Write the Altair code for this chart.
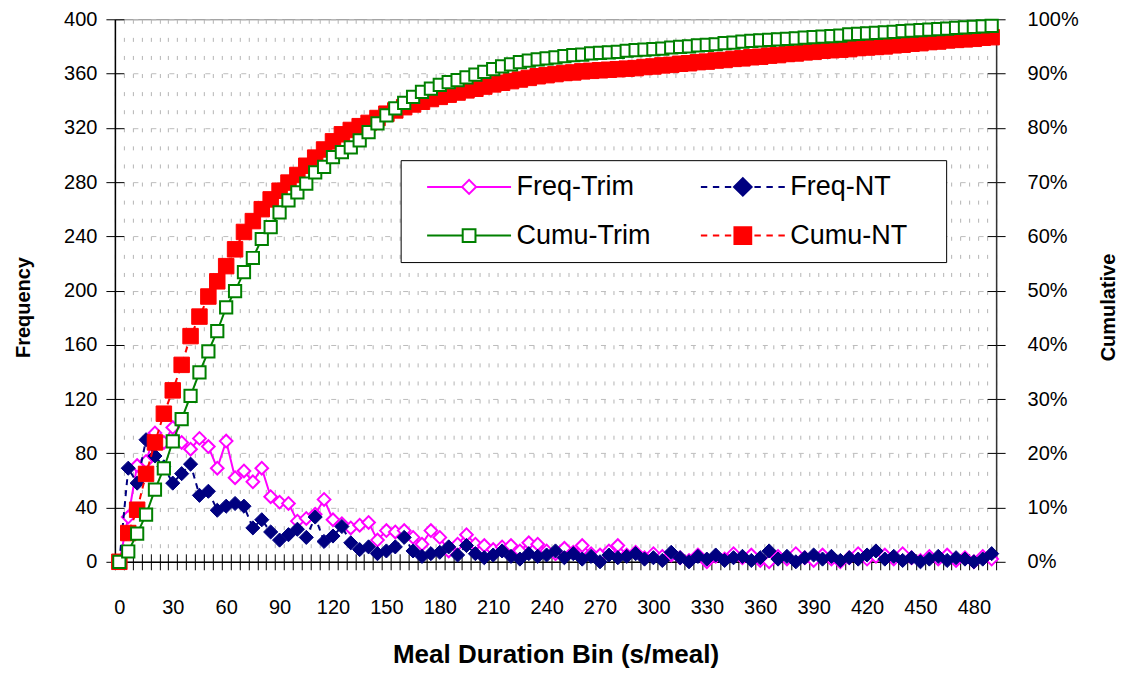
import altair as alt
import pandas as pd

FONT = "Liberation Sans"

bins = list(range(0, 495, 5))

freq_trim = [0, 33, 71, 74, 95, 88, 99, 88, 83, 91,
             85, 69, 89, 62, 67, 59, 69, 48, 44, 43,
             30, 32, 35, 46, 31, 28, 25, 27, 29, 16,
             23, 22, 23, 18, 13, 23, 18, 8, 13, 20,
             13, 12, 9, 11, 12, 8, 14, 13, 8, 6,
             10, 7, 12, 6, 5, 8, 12, 5, 7, 3,
             6, 4, 5, 3, 1, 5, 0, 4, 2, 6,
             3, 5, 1, 0, 4, 2, 6, 3, 1, 5,
             2, 0, 3, 6, 2, 4, 5, 2, 6, 3,
             1, 4, 2, 5, 1, 3, 0, 4, 2]

freq_nt = [0, 69, 58, 90, 78, 70, 58, 65, 72, 49,
           52, 38, 41, 43, 41, 25, 31, 22, 16, 20,
           24, 18, 33, 15, 19, 26, 14, 9, 11, 6,
           8, 11, 18, 8, 4, 6, 7, 11, 5, 12,
           6, 3, 5, 8, 4, 2, 6, 4, 5, 8,
           3, 6, 2, 4, 0, 5, 3, 4, 6, 2,
           3, 1, 7, 3, 0, 4, 2, 5, 1, 3,
           4, 1, 3, 8, 2, 4, 0, 3, 5, 2,
           4, 1, 3, 2, 5, 8, 2, 4, 1, 3,
           0, 2, 4, 1, 3, 2, 0, 2, 6]

cumu_trim = [0, 1.9, 5.2, 8.7, 13.3, 17.2, 22.2, 26.3, 30.6, 34.9,
             38.8, 42.5, 46.9, 49.9, 53.4, 56.0, 59.5, 61.7, 64.4, 66.6,
             68.1, 69.7, 71.8, 72.8, 74.6, 75.5, 76.4, 77.7, 79.2, 80.8,
             82.3, 83.6, 84.6, 85.7, 86.6, 87.2, 87.9, 88.4, 88.8, 89.3,
             89.8, 90.3, 90.8, 91.3, 91.7, 92.1, 92.4, 92.6, 92.8, 93.0,
             93.2, 93.4, 93.5, 93.7, 93.8, 93.9, 94.0, 94.2, 94.3, 94.4,
             94.5, 94.6, 94.8, 94.9, 95.0, 95.2, 95.3, 95.4, 95.6, 95.7,
             95.9, 96.0, 96.1, 96.2, 96.3, 96.4, 96.5, 96.6, 96.7, 96.8,
             96.9, 97.0, 97.2, 97.3, 97.4, 97.5, 97.6, 97.7, 97.8, 97.9,
             98.0, 98.1, 98.2, 98.3, 98.4, 98.5, 98.6, 98.7, 98.8]

cumu_nt = [0, 5.3, 9.6, 16.2, 22.0, 27.3, 31.6, 36.3, 41.6, 45.2,
           48.9, 51.7, 54.5, 57.6, 60.8, 62.8, 65.0, 66.8, 68.4, 69.9,
           71.3, 73.0, 74.5, 76.0, 77.5, 78.8, 79.6, 80.3, 80.9, 81.8,
           82.6, 83.2, 83.8, 84.3, 84.8, 85.3, 85.7, 86.1, 86.5, 86.9,
           87.2, 87.6, 88.0, 88.3, 88.6, 88.9, 89.2, 89.5, 89.7, 89.9,
           90.1, 90.2, 90.4, 90.5, 90.6, 90.7, 90.8, 90.9, 91.0, 91.2,
           91.3, 91.5, 91.6, 91.8, 91.9, 92.1, 92.2, 92.4, 92.5, 92.7,
           92.8, 93.0, 93.1, 93.3, 93.4, 93.6, 93.7, 93.9, 94.0, 94.2,
           94.3, 94.4, 94.5, 94.7, 94.8, 94.9, 95.0, 95.2, 95.3, 95.5,
           95.6, 95.8, 95.9, 96.1, 96.2, 96.3, 96.4, 96.6, 96.7]

# legend is laid out column-first: column 1 = Trim, column 2 = NT
legend_order = ["Freq-Trim", "Cumu-Trim", "Freq-NT", "Cumu-NT"]
legend_colors = ["#ff00ff", "#008000", "#000080", "#ff0000"]
legend_fills = ["white", "white", "#000080", "#ff0000"]
legend_paths = [
    "M0,0H8.75M8.75,0L10.5,-1.75L12.25,0L10.5,1.75ZM12.25,0H21",
    "M0,0H8.9M8.9,-1.6H12.1V1.6H8.9ZM12.1,0H21",
    "M0,0H1.6M3,0H4.6M6,0H7.6M8.3,0L10.5,-2.2L12.7,0L10.5,2.2ZM13.4,0H15M16.4,0H18M19.4,0H21",
    "M0,0H1.6M3,0H4.6M6,0H7.6M8.4,-2.1H12.6V2.1H8.4ZM13.4,0H15M16.4,0H18M19.4,0H21",
]

C_FT, C_FN, C_CT, C_CN = "#ff00ff", "#000080", "#008000", "#ff0000"

x_label_values = list(range(0, 481, 30))
x_tick_values = [v - 2.5 for v in range(0, 500, 5)]
freq_ticks = list(range(0, 401, 40))
cum_ticks = list(range(0, 101, 10))

df = pd.DataFrame({"b": bins, "ft": freq_trim, "fn": freq_nt,
                   "ct": cumu_trim, "cn": cumu_nt})
leg_df = pd.DataFrame({"series": legend_order, "b": [0] * 4, "z": [0] * 4})

W, H = 882, 543
xscale = alt.Scale(domain=[-2.5, 492.5], nice=False, zero=False)

ax_x_main = alt.Axis(orient="bottom", values=x_label_values,
                     title="Meal Duration Bin (s/meal)",
                     ticks=False, grid=False, domain=True, domainColor="black",
                     domainWidth=1.5, labelPadding=36, labelFontSize=20,
                     labelFont=FONT, labelColor="black", labelFlush=False,
                     labelOverlap=False, titleFont=FONT, titleFontSize=26,
                     titleFontWeight="bold", titleColor="black", titlePadding=24)
ax_x_ticks = alt.Axis(orient="bottom", values=x_tick_values, labels=False, title=None,
                      domain=False, ticks=True, tickSize=8, tickColor="black",
                      tickWidth=1, grid=True, gridColor="#b4b4b4",
                      gridDash=[4, 14.1], gridWidth=1)
ax_x_inner = alt.Axis(orient="bottom", values=x_tick_values, labels=False, title=None,
                      domain=False, ticks=True, tickSize=8, tickColor="black",
                      tickWidth=1, offset=-8, grid=False)

ax_y_freq = alt.Axis(orient="left", values=freq_ticks, title="Frequency",
                     titleFont=FONT, titleFontSize=20, titleFontWeight="bold",
                     titleColor="black", titlePadding=30, titleY=288,
                     labelFont=FONT, labelFontSize=20, labelColor="black",
                     labelPadding=9, tickSize=9, tickColor="black",
                     domainColor="black", domainWidth=1.5, grid=True,
                     gridColor="#bdbdbd", gridDash=[5, 13], gridWidth=1)
ax_y_cum = alt.Axis(orient="right", values=cum_ticks, labelExpr="datum.value + '%'",
                    title="Cumulative", titleAngle=270, titleFont=FONT,
                    titleFontSize=20, titleFontWeight="bold", titleColor="black",
                    titlePadding=40, titleY=288, labelFont=FONT, labelFontSize=20,
                    labelColor="black", labelPadding=22, tickSize=9,
                    tickColor="black", domainColor="#333333", domainWidth=1.5,
                    grid=False)
ax_y_left_inner = alt.Axis(orient="left", values=freq_ticks, labels=False, title=None,
                           domain=False, tickSize=9, offset=-9, tickColor="black",
                           grid=False)
ax_y_right_inner = alt.Axis(orient="right", values=cum_ticks, labels=False, title=None,
                            domain=False, tickSize=9, offset=-9, tickColor="black",
                            grid=False)

x_main = alt.X("b:Q", scale=xscale, axis=ax_x_main)
x_tk = alt.X("b:Q", scale=xscale, axis=ax_x_ticks)


def yf(field):
    return alt.Y(f"{field}:Q", scale=alt.Scale(domain=[0, 400], nice=False), axis=ax_y_freq)


def yc(field):
    return alt.Y(f"{field}:Q", scale=alt.Scale(domain=[0, 100], nice=False), axis=ax_y_cum)


base = alt.Chart(df)

freq_group = alt.layer(
    base.mark_line(color=C_FT, strokeWidth=2).encode(x=x_main, y=yf("ft")),
    base.mark_point(shape="diamond", size=160, filled=True, fill="white", fillOpacity=1,
                    stroke=C_FT, strokeWidth=2, opacity=1).encode(x=x_main, y=yf("ft")),
    base.mark_line(color=C_FN, strokeWidth=2, strokeDash=[6, 5]).encode(x=x_main, y=yf("fn")),
    base.mark_point(shape="diamond", size=200, filled=True, fill=C_FN,
                    stroke=C_FN, strokeWidth=1, opacity=1).encode(x=x_main, y=yf("fn")),
)

cumu_group = alt.layer(
    base.mark_line(color=C_CN, strokeWidth=2, strokeDash=[6, 5]).encode(x=x_tk, y=yc("cn")),
    base.mark_point(shape="square", size=240, filled=True, fill=C_CN,
                    stroke=C_CN, strokeWidth=1, opacity=1).encode(x=x_tk, y=yc("cn")),
    base.mark_line(color=C_CT, strokeWidth=2).encode(x=x_tk, y=yc("ct")),
    base.mark_point(shape="square", size=150, filled=True, fill="white", fillOpacity=1,
                    stroke=C_CT, strokeWidth=2, opacity=1).encode(x=x_tk, y=yc("ct")),
)

leg = alt.Legend(title=" ", titleOrient="right", titlePadding=26, titleFontSize=10,
                 orient="none", legendX=286, legendY=141, columns=2,
                 symbolSize=64, symbolStrokeWidth=2, labelFont=FONT,
                 labelFontSize=27, labelColor="black", labelOffset=76,
                 rowPadding=21, columnPadding=37, padding=13,
                 strokeColor="black", fillColor="white", symbolLimit=0)

decor_left = alt.Chart(leg_df).transform_filter("datum.b < -100").mark_point(
    filled=True, strokeWidth=2, opacity=1).encode(
    x=alt.X("b:Q", scale=xscale, axis=ax_x_inner),
    y=alt.Y("z:Q", scale=alt.Scale(domain=[0, 400], nice=False), axis=ax_y_left_inner),
    shape=alt.Shape("series:N", scale=alt.Scale(domain=legend_order, range=legend_paths), legend=leg),
    fill=alt.Fill("series:N", scale=alt.Scale(domain=legend_order, range=legend_fills), legend=leg),
    stroke=alt.Stroke("series:N", scale=alt.Scale(domain=legend_order, range=legend_colors), legend=leg),
)

decor_right = alt.Chart(leg_df).transform_filter("datum.b < -100").mark_point().encode(
    x=alt.X("b:Q", scale=xscale, axis=None),
    y=alt.Y("z:Q", scale=alt.Scale(domain=[0, 100], nice=False), axis=ax_y_right_inner),
)

chart = alt.layer(freq_group, cumu_group, decor_left, decor_right).resolve_scale(
    y="independent"
).resolve_axis(
    x="independent", y="independent"
).properties(
    width=W, height=H, background="white",
    padding={"left": 5, "top": 1, "right": 0, "bottom": 5}
).configure_view(stroke="#808080", strokeWidth=1)

chart.save("out.html", embed_options={"renderer": "svg", "actions": False})
